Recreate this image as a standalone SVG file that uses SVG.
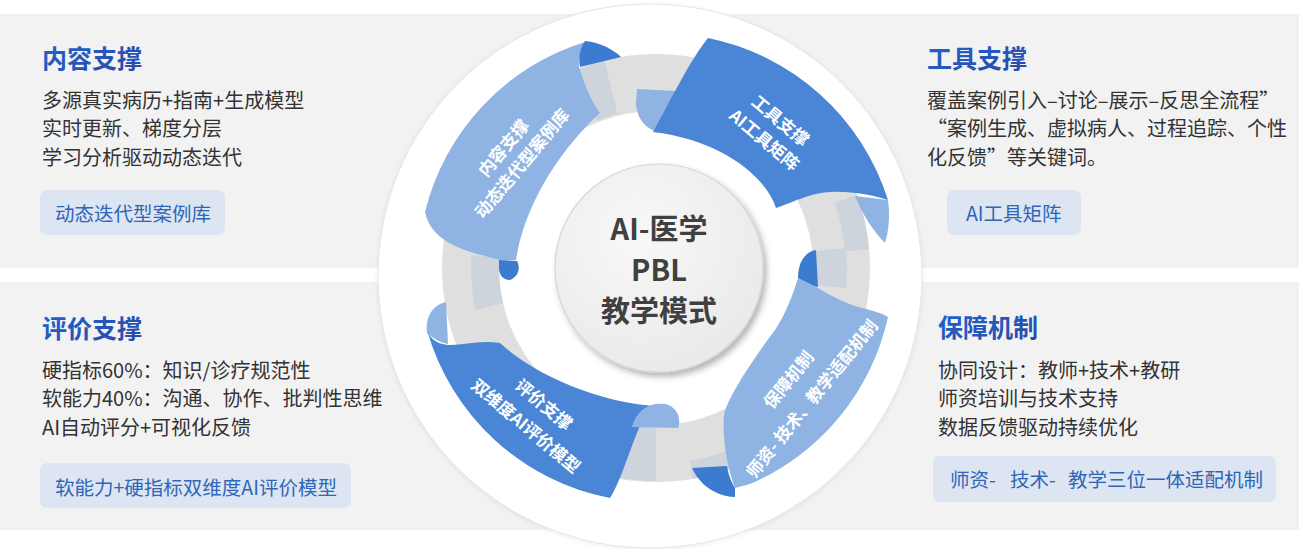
<svg xmlns="http://www.w3.org/2000/svg" width="1299" height="549" viewBox="0 0 1299 549">
<defs>
<style>
.cn{font-family:'Noto Sans CJK SC','Noto Sans',sans-serif;}
.title{font-size:25px;font-weight:700;fill:url(#tg);}
.body{font-size:20px;fill:#333333;}
.tag{font-size:19.5px;fill:#2f66b8;}
.tagbox{fill:#dce5f1;}
.panel{fill:#f2f2f2;}
.rt{font-size:17px;font-weight:700;fill:#ffffff;text-anchor:middle;}
.light{fill:#8fb4e3;}
.dark{fill:#4a86d5;}
.curl{fill:#3b7bd0;}
.shade{fill:none;stroke:#ced4dc;}
.ctext{font-size:29px;font-weight:700;fill:#404040;text-anchor:middle;}
</style>
<linearGradient id="tg" x1="0" y1="0" x2="1" y2="1">
<stop offset="0" stop-color="#1e66d2"/>
<stop offset="1" stop-color="#2c47a4"/>
</linearGradient>
<radialGradient id="cg" cx="0.4" cy="0.35" r="0.75">
<stop offset="0" stop-color="#f8f8f8"/>
<stop offset="1" stop-color="#e8e8e8"/>
</radialGradient>
<filter id="sh" x="-20%" y="-20%" width="140%" height="140%">
<feDropShadow dx="3" dy="4" stdDeviation="3" flood-color="#000" flood-opacity="0.3"/>
</filter>
<filter id="bsh" x="-10%" y="-10%" width="120%" height="120%">
<feDropShadow dx="0" dy="1" stdDeviation="2" flood-color="#000" flood-opacity="0.08"/>
</filter>
</defs>

<g id="panels">
<rect class="panel" x="0" y="14" width="1299" height="254"/>
<rect class="panel" x="0" y="282" width="1299" height="248"/>
</g>

<g id="node-content" class="cn">
<text class="title" x="42" y="67.5">内容支撑</text>
<text class="body" x="42" y="108">多源真实病历+指南+生成模型</text>
<text class="body" x="42" y="136">实时更新、梯度分层</text>
<text class="body" x="42" y="165">学习分析驱动动态迭代</text>
<rect class="tagbox" x="40" y="190" width="185" height="45" rx="7"/>
<text class="tag" x="55" y="220.5">动态迭代型案例库</text>
</g>

<g id="node-eval" class="cn">
<text class="title" x="42" y="337.5">评价支撑</text>
<text class="body" x="42" y="377.6">硬指标60%：知识/诊疗规范性</text>
<text class="body" x="42" y="405.6">软能力40%：沟通、协作、批判性思维</text>
<text class="body" x="42" y="434.6">AI自动评分+可视化反馈</text>
<rect class="tagbox" x="40" y="463" width="311" height="45" rx="7"/>
<text class="tag" x="55" y="494.6">软能力+硬指标双维度AI评价模型</text>
</g>

<g id="node-tool" class="cn">
<text class="title" x="927" y="67.5">工具支撑</text>
<text class="body" x="927" y="108">覆盖案例引入–讨论–展示–反思全流程”</text>
<text class="body" x="927" y="136">“案例生成、虚拟病人、过程追踪、个性</text>
<text class="body" x="927" y="165">化反馈”等关键词。</text>
<rect class="tagbox" x="947" y="190" width="134" height="45" rx="7"/>
<text class="tag" x="966" y="220.5">AI工具矩阵</text>
</g>

<g id="node-guarantee" class="cn">
<text class="title" x="938" y="336.5">保障机制</text>
<text class="body" x="938" y="377.6">协同设计：教师+技术+教研</text>
<text class="body" x="938" y="405.6">师资培训与技术支持</text>
<text class="body" x="938" y="434.6">数据反馈驱动持续优化</text>
<rect class="tagbox" x="933" y="456" width="343" height="46" rx="7"/>
<text class="tag" y="486.5"><tspan x="950">师资-</tspan><tspan x="1010">技术-</tspan><tspan x="1068">教学三位一体适配机制</tspan></text>
</g>

<g id="wheel">
<circle cx="650" cy="276" r="272" fill="#ffffff" stroke="#e4e4e4" stroke-width="1" filter="url(#bsh)"/>
<circle cx="656" cy="268" r="185.5" fill="none" stroke="#dfdfdf" stroke-width="57"/>
<path class="shade" stroke-width="28" d="M 485.4 256.1 A 171 171 0 0 0 489.4 306.5"/>
<path class="shade" stroke-width="54" d="M 611 87.5 A 186 186 0 0 0 586.3 95.5"/>
<path class="shade" stroke-width="24" d="M 857.2 250.4 A 202 202 0 0 0 845.8 198.9"/>
<path class="shade" stroke-width="30" d="M 831 286.4 A 176 176 0 0 0 831 249.6"/>
<path class="shade" stroke-width="54" d="M 623.7 451.2 A 186 186 0 0 0 656 454"/>
<path class="shade" stroke-width="18" d="M 691.6 469.9 A 205 205 0 0 0 736.1 456.7"/>
</g>

<g id="ribbon-content">
<path class="light" d="M 425 212 A 237 237 0 0 1 585 42 C 581 50 578 60 579 67 C 584 82 590 100 600 113 C 565 145 525 200 516 260 L 500 260 C 470 252 432 245 425 212 Z"/>
<path class="curl" d="M 585 41 C 600 42 614 50 621 57 L 580 67 C 578 58 580 48 585 41 Z"/>
<path class="curl" d="M 499 260 L 517 261 C 521 268 518 277 510 280 C 503 280 499 275 499 268 Z"/>
<text class="cn rt" transform="translate(512.5,155.5) rotate(-50)"><tspan x="0" y="-5.5">内容支撑</tspan><tspan x="0" y="18.5">动态迭代型案例库</tspan></text>
</g>

<g id="ribbon-tool">
<path class="light" d="M 637 89 L 676 91 L 655 131 C 645 128 637 118 636 104 Z"/>
<path class="dark" d="M 708 38 A 238 238 0 0 1 888 200 C 870 194 835 188 812 195 C 798 199 788 204 776 208 C 765 175 720 140 653 132 C 668 105 690 60 708 38 Z"/>
<path class="light" d="M 855 196 L 888 200 C 890 215 889 230 885 243 C 872 230 862 213 855 196 Z"/>
<text class="cn rt" transform="translate(772.5,130) rotate(40)"><tspan x="0" y="-6">工具支撑</tspan><tspan x="0" y="19">AI工具矩阵</tspan></text>
</g>

<g id="ribbon-eval">
<path class="light" d="M 446 302 C 432 305 425 318 427 333 C 435 340 442 343 448 344 Z"/>
<path class="dark" d="M 427 330 A 237 237 0 0 0 610 498 C 622 480 632 440 645 415 L 657 406 C 610 404 540 380 500 343 C 480 340 465 345 450 345 C 440 345 430 340 427 330 Z"/>
<path class="light" d="M 632 427 C 636 410 650 402 665 404 C 676 406 682 418 678 428 Z"/>
<text class="cn rt" transform="translate(535,415) rotate(40)"><tspan x="0" y="-7.5">评价支撑</tspan><tspan x="0" y="20.5">双维度AI评价模型</tspan></text>
</g>

<g id="ribbon-guarantee">
<path class="curl" d="M 816 250 C 805 252 798 262 798 278 C 805 283 812 286 818 287 Z"/>
<path class="light" d="M 798 278 C 815 285 835 300 855 306 C 870 310 880 312 888 317 A 237 237 0 0 1 750 484 L 735 488 C 728 470 722 440 724 415 C 728 395 760 350 775 330 C 785 315 793 295 798 278 Z"/>
<path class="curl" d="M 692 468 C 700 485 715 496 735 497 L 735 488 C 730 480 728 472 727 466 Z"/>
<text class="cn rt" transform="translate(800,389) rotate(-51)"><tspan x="0" y="-8.5">保障机制</tspan><tspan x="0" y="21.5">师资- 技术、教学适配机制</tspan></text>
</g>

<g id="node-center">
<circle cx="659" cy="268" r="104" fill="url(#cg)" stroke="#d6d6d6" stroke-width="1.2" filter="url(#sh)"/>
<text class="cn ctext" x="659" y="240">AI-医学</text>
<text class="cn ctext" x="659" y="281">PBL</text>
<text class="cn ctext" x="659" y="322">教学模式</text>
</g>

<g id="connectors"/>
</svg>
